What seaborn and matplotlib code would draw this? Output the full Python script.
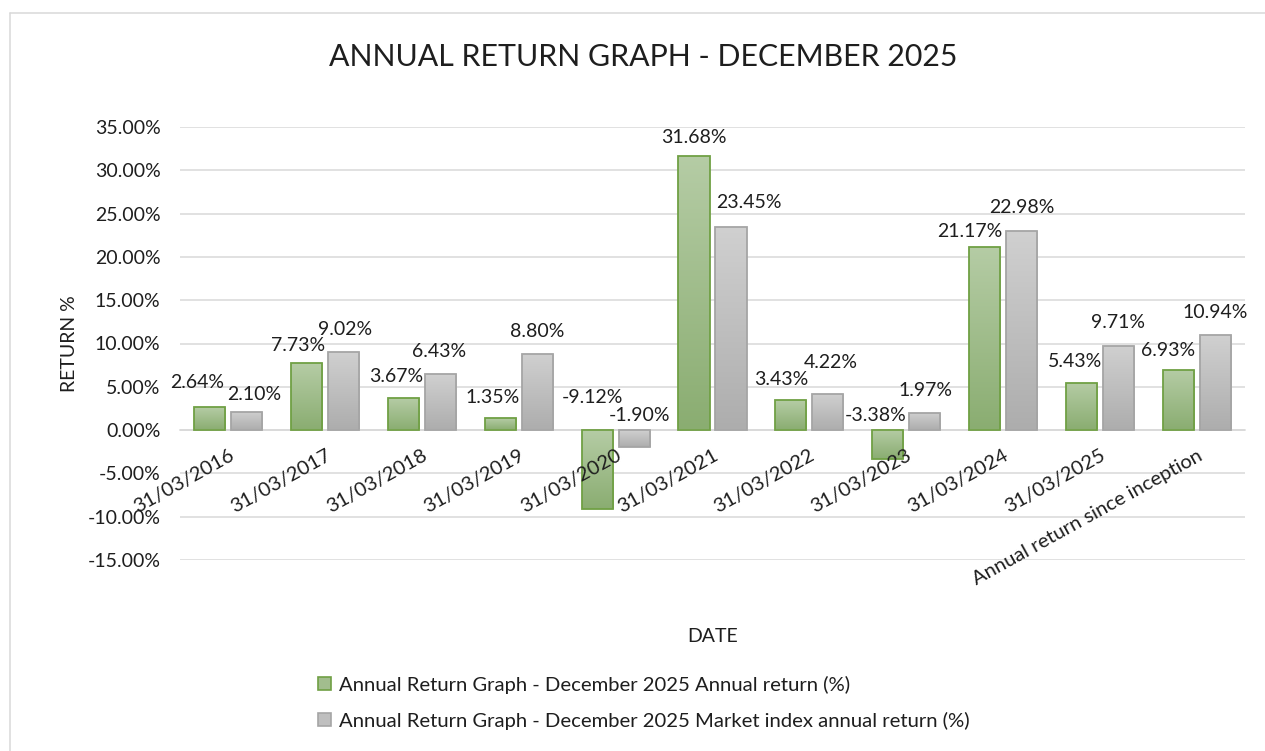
import numpy as np
import pandas as pd
import matplotlib
matplotlib.use('Agg')
import matplotlib.pyplot as plt
import seaborn as sns
from matplotlib.colors import LinearSegmentedColormap
from matplotlib.patches import Patch
from matplotlib.lines import Line2D
from matplotlib.ticker import FuncFormatter, MultipleLocator

# --- Data ---
dates = ['31/03/2016', '31/03/2017', '31/03/2018', '31/03/2019', '31/03/2020',
         '31/03/2021', '31/03/2022', '31/03/2023', '31/03/2024', '31/03/2025',
         'Annual return since inception']
fund_return = [2.64, 7.73, 3.67, 1.35, -9.12, 31.68, 3.43, -3.38, 21.17, 5.43, 6.93]
index_return = [2.10, 9.02, 6.43, 8.80, -1.90, 23.45, 4.22, 1.97, 22.98, 9.71, 10.94]
series_names = ['Annual Return Graph - December 2025 Annual return (%)',
                'Annual Return Graph - December 2025 Market index annual return (%)']

# label nudges in pixels (dx, dy above bar end / zero line), mimics Excel placement
fund_label_nudge = [(-13, 25), (-9, 18), (-7, 22), (-8, 21), (-5, 33), (0, 18),
                    (-10, 21), (-12, 15), (-15, 15), (-6, 22), (-10, 20)]
index_label_nudge = [(7, 17), (1, 22), (-1, 23), (0, 22), (5, 15), (18, 25),
                     (3, 31), (1, 23), (0, 24), (0, 24), (0, 23)]

df = pd.DataFrame({
    'date': dates * 2,
    'series': [series_names[0]] * len(dates) + [series_names[1]] * len(dates),
    'value': fund_return + index_return,
})

green_edge = '#70a044'
grey_edge = '#a5a5a5'
green_cmap = LinearSegmentedColormap.from_list('g', ['#b5cca5', '#8aad71'])
grey_cmap = LinearSegmentedColormap.from_list('k', ['#d0d0d0', '#adadad'])
text_color = '#1e1e1e'

sns.set_style('white')
plt.rcParams['font.family'] = ['Lato', 'DejaVu Sans']

fig = plt.figure(figsize=(12.65, 7.51), dpi=100)
ax = fig.add_axes([180 / 1265, 1 - 560 / 751, 1065 / 1265, 433 / 751])

sns.barplot(data=df, x='date', y='value', hue='series', order=dates,
            hue_order=series_names, palette=['#a2bd8e', '#bfbfbf'],
            width=0.764, gap=0.16, saturation=1, errorbar=None,
            legend=False, ax=ax)

# gradient fills like the Excel bars
grad = np.linspace(0, 1, 200).reshape(-1, 1)
for cont, cmap, edge in zip(ax.containers, [green_cmap, grey_cmap], [green_edge, grey_edge]):
    for bar in cont:
        x0 = bar.get_x()
        w = bar.get_width()
        y0 = min(bar.get_y(), bar.get_y() + bar.get_height())
        y1 = max(bar.get_y(), bar.get_y() + bar.get_height())
        im = ax.imshow(grad, cmap=cmap, extent=[x0, x0 + w, y0, y1],
                       aspect='auto', origin='upper', zorder=2)
        im.set_clip_path(bar)
        bar.set_facecolor('none')
        bar.set_edgecolor(edge)
        bar.set_linewidth(1.3)
        bar.set_zorder(3)

ax.set_xlim(-0.5, len(dates) - 0.5)
ax.set_ylim(-15, 35)
ax.yaxis.set_major_locator(MultipleLocator(5))
ax.yaxis.set_major_formatter(FuncFormatter(lambda v, _: f'{v:.2f}%'))
ax.yaxis.grid(True, color='#d9d9d9', linewidth=1.1, zorder=0)
ax.set_axisbelow(True)

for s in ['top', 'right', 'left']:
    ax.spines[s].set_visible(False)
ax.spines['bottom'].set_position(('data', 0))
ax.spines['bottom'].set_color('#d9d9d9')
ax.spines['bottom'].set_linewidth(1.1)
# category labels sit on top of the bars, as in the original
ax.xaxis.set_zorder(4)

ax.tick_params(axis='both', length=0, labelsize=14, colors=text_color)
ax.tick_params(axis='y', pad=14)
ax.tick_params(axis='x', pad=12, labelsize=14.5)
ax.set_xticks(range(len(dates)))
ax.set_xticklabels(dates, rotation=29, ha='right', va='top', rotation_mode='anchor')

ax.set_ylabel('RETURN %', fontsize=14, color=text_color)
ax.yaxis.set_label_coords(-0.096, 0.5)
ax.set_xlabel('DATE', fontsize=14, color=text_color)
ax.xaxis.set_label_coords(0.5, -0.157)

# data labels
for cont, vals, nudges in zip(ax.containers, [fund_return, index_return],
                              [fund_label_nudge, index_label_nudge]):
    for bar, v, (dx, dy) in zip(cont, vals, nudges):
        xc = bar.get_x() + bar.get_width() / 2
        ya = v if v > 0 else 0
        ax.annotate(f'{v:.2f}%', xy=(xc, ya), xytext=(dx * 0.72, dy * 0.72),
                    textcoords='offset points', ha='center', va='center',
                    fontsize=14, color=text_color, zorder=5)

fig.text(643 / 1265, 1 - 57 / 751, 'ANNUAL RETURN GRAPH - DECEMBER 2025',
         ha='center', va='center', fontsize=21.8, color=text_color)

handles = [Patch(facecolor='#a2bd8e', edgecolor=green_edge, linewidth=1.2),
           Patch(facecolor='#bfbfbf', edgecolor=grey_edge, linewidth=1.2)]
fig.legend(handles, series_names, loc='upper left',
           bbox_to_anchor=(318 / 1265, 1 - 676 / 751), frameon=False,
           fontsize=14.6, handlelength=0.62, handleheight=0.62,
           handletextpad=0.4, labelspacing=0.88, borderpad=0, borderaxespad=0,
           labelcolor=text_color)

# chart border (left and top edges visible)
fig.add_artist(Line2D([10 / 1265, 10 / 1265], [0, 1 - 13 / 751], transform=fig.transFigure,
                      color='#d9d9d9', linewidth=1.1))
fig.add_artist(Line2D([10 / 1265, 1], [1 - 13 / 751, 1 - 13 / 751], transform=fig.transFigure,
                      color='#d9d9d9', linewidth=1.1))

plt.savefig('out.png', dpi=100)
plt.close()
